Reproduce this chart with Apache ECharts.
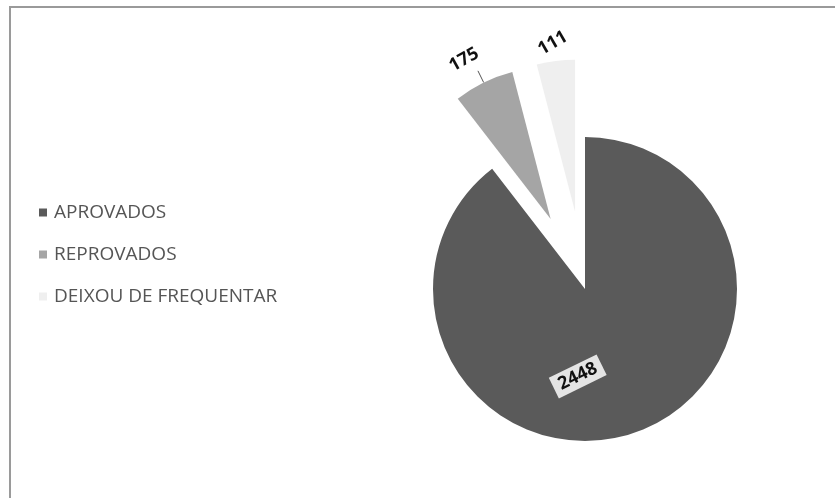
<!DOCTYPE html>
<html>
<head>
<meta charset="utf-8">
<script src="https://cdn.jsdelivr.net/npm/echarts@6/dist/echarts.min.js"></script>
<style>
  html, body { margin: 0; padding: 0; background: #ffffff; }
  #wrap { position: relative; width: 835px; height: 498px; overflow: hidden; }
  #chart { position: absolute; left: 0; top: 0; width: 835px; height: 498px; }
  #frame {
    position: absolute; left: 9px; top: 6px; width: 840px; height: 500px;
    border-top: 2px solid #9a9a9a; border-left: 2px solid #9a9a9a;
    pointer-events: none;
  }
</style>
</head>
<body>
<div id="wrap">
  <div id="chart"></div>
  <div id="frame"></div>
</div>
<script>
// Situação final dos alunos
const categories = ['APROVADOS', 'REPROVADOS', 'DEIXOU DE FREQUENTAR'];
const values = [2448, 175, 111];
const colors = ['#5a5a5a', '#a5a5a5', '#efefef'];
const exploded = [false, true, true];

const valueFont = "'Open Sans', 'Liberation Sans', sans-serif";

const labelStyles = [
  {
    position: 'inside', rotate: 26, color: '#111', fontSize: 18, fontWeight: 'bold',
    fontFamily: valueFont, backgroundColor: '#e4e4e4', padding: [3, 6, 2, 6]
  },
  { position: 'outside', rotate: 29, color: '#111', fontSize: 18, fontWeight: 'bold', fontFamily: valueFont },
  { position: 'outside', rotate: 30, color: '#111', fontSize: 18, fontWeight: 'bold', fontFamily: valueFont }
];
const lineStyles = [
  { show: false },
  { show: true, length: 13, length2: 0, lineStyle: { color: '#555', width: 1 } },
  { show: false, length: 8, length2: 0 }
];
// small nudges of the value labels
const labelShift = [[-35, -3], [13, -14], [23, -7]];

const seriesData = categories.map((name, i) => ({
  name: name,
  value: values[i],
  selected: exploded[i],
  itemStyle: { color: colors[i] },
  label: labelStyles[i],
  labelLine: lineStyles[i]
}));

const chart = echarts.init(document.getElementById('chart'), null, { renderer: 'canvas' });
chart.setOption({
  animation: false,
  backgroundColor: '#ffffff',
  legend: {
    orient: 'vertical',
    left: 34,
    top: 198,
    itemWidth: 8,
    itemHeight: 8,
    itemGap: 23,
    icon: 'rect',
    selectedMode: false,
    data: categories,
    textStyle: { color: '#555555', fontSize: 19, fontFamily: "'Open Sans', sans-serif", padding: [0, 0, 0, 2] }
  },
  series: [{
    type: 'pie',
    center: [585, 289],
    radius: 152,
    startAngle: 90,
    clockwise: true,
    selectedMode: 'multiple',
    selectedOffset: 78,
    avoidLabelOverlap: false,
    itemStyle: { borderColor: '#ffffff', borderWidth: 0 },
    emphasis: { disabled: true },
    label: { formatter: '{c}' },
    labelLayout: function (p) {
      const s = labelShift[p.dataIndex];
      return { dx: s[0], dy: s[1] };
    },
    data: seriesData
  }]
});
</script>
</body>
</html>
